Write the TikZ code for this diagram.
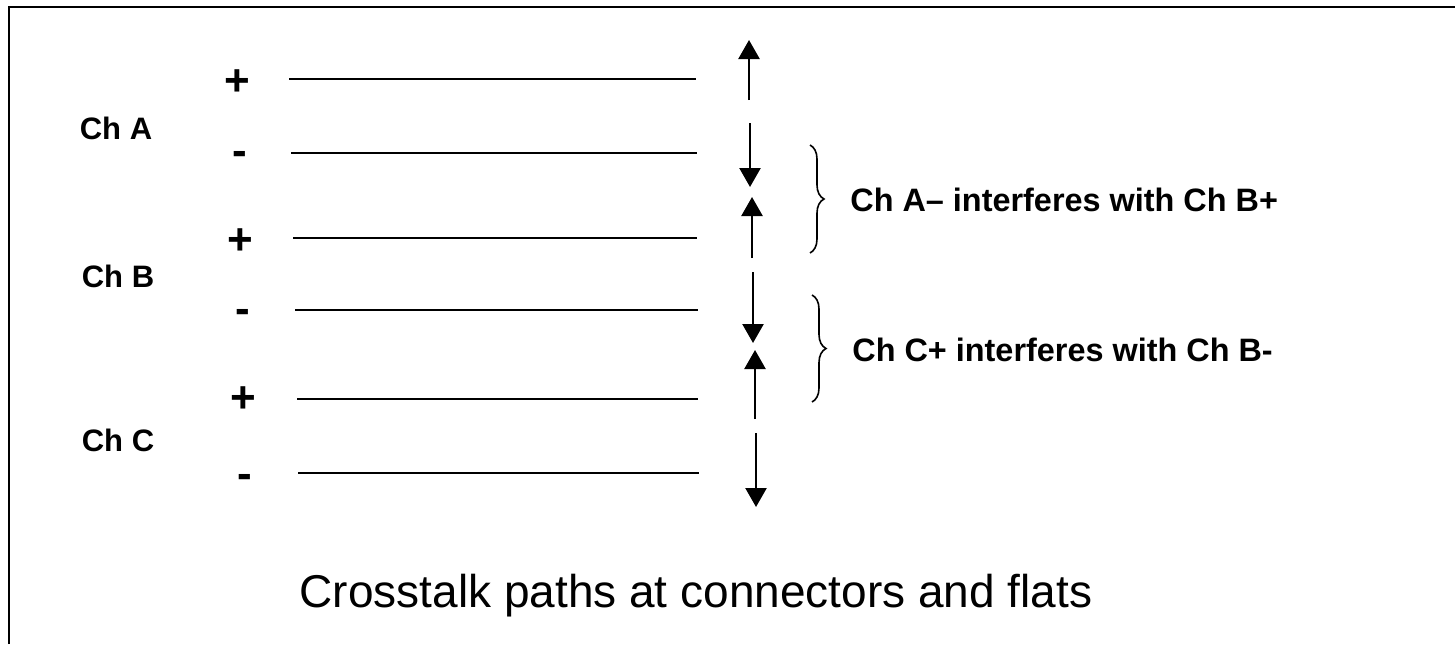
\documentclass[tikz,border=0pt]{standalone}
\usepackage{fontspec}
\setmainfont{Liberation Sans}
\usetikzlibrary{arrows.meta,decorations.pathreplacing}
\begin{document}
\begin{tikzpicture}[x=0.5pt,y=-0.5pt,
  wire/.style={line width=1pt},
  sig/.style={line width=1.2pt,-{Triangle[width=10.5pt,length=9.5pt]}},
  lbl/.style={font=\bfseries\fontsize{15.5}{18}\selectfont,inner sep=0pt},
  pm/.style={font=\bfseries\fontsize{22}{24}\selectfont,inner sep=0pt},
  note/.style={font=\bfseries\fontsize{16.2}{19}\selectfont,inner sep=0pt,anchor=west},
  brc/.style={decorate,decoration={brace,amplitude=7pt},line width=0.8pt}]
\useasboundingbox (0,0) rectangle (1455,644);
\draw[line width=1.2pt] (9,644) -- (9,7) -- (1455,7);
% wires
\foreach \n/\xa/\xb/\y in {1/289/696/79, 2/291/697/153, 3/293/697/238, 4/295/698/310, 5/297/698/399, 6/298/699/473}{
  \coordinate (w\n a) at (\xa,\y);
  \coordinate (w\n b) at (\xb,\y);
  \draw[wire] (w\n a) -- (w\n b);
}
% signs and channel labels
\node[pm] (p1) at (237,83) {+};
\node[pm] (m1) at (240,158) {-};
\node[pm] (p2) at (240,242) {+};
\node[pm] (m2) at (243,316) {-};
\node[pm] (p3) at (243,400) {+};
\node[pm] (m3) at (245,481) {-};
\node[lbl] (cha) at (116,128) {Ch A};
\node[lbl] (chb) at (118,276) {Ch B};
\node[lbl] (chc) at (118,440) {Ch C};
% arrows
\coordinate (a1t) at (749,100); \coordinate (a1h) at (749,40);
\coordinate (a2t) at (750,123); \coordinate (a2h) at (750,187);
\coordinate (a3t) at (752,258); \coordinate (a3h) at (752,197);
\coordinate (a4t) at (753,272); \coordinate (a4h) at (753,343);
\coordinate (a5t) at (755,419); \coordinate (a5h) at (755,350);
\coordinate (a6t) at (756,433); \coordinate (a6h) at (756,507);
\foreach \n in {1,...,6}{ \draw[sig] (a\n t) -- (a\n h); }
% braces
\coordinate (b1t) at (810,145); \coordinate (b1b) at (810,253);
\coordinate (b2t) at (812,295); \coordinate (b2b) at (812,402);
\draw[brc] (b1t) -- (b1b);
\draw[brc] (b2t) -- (b2b);
\node[note] (n1) at (850,200) {Ch A\textendash{} interferes with Ch B+};
\node[note] (n2) at (852,350) {Ch C+ interferes with Ch B-};
% caption
\node[inner sep=0pt,font=\fontsize{23}{27}\selectfont] (cap) at (696,596) {Crosstalk paths at connectors and flats};
\end{tikzpicture}
\end{document}
